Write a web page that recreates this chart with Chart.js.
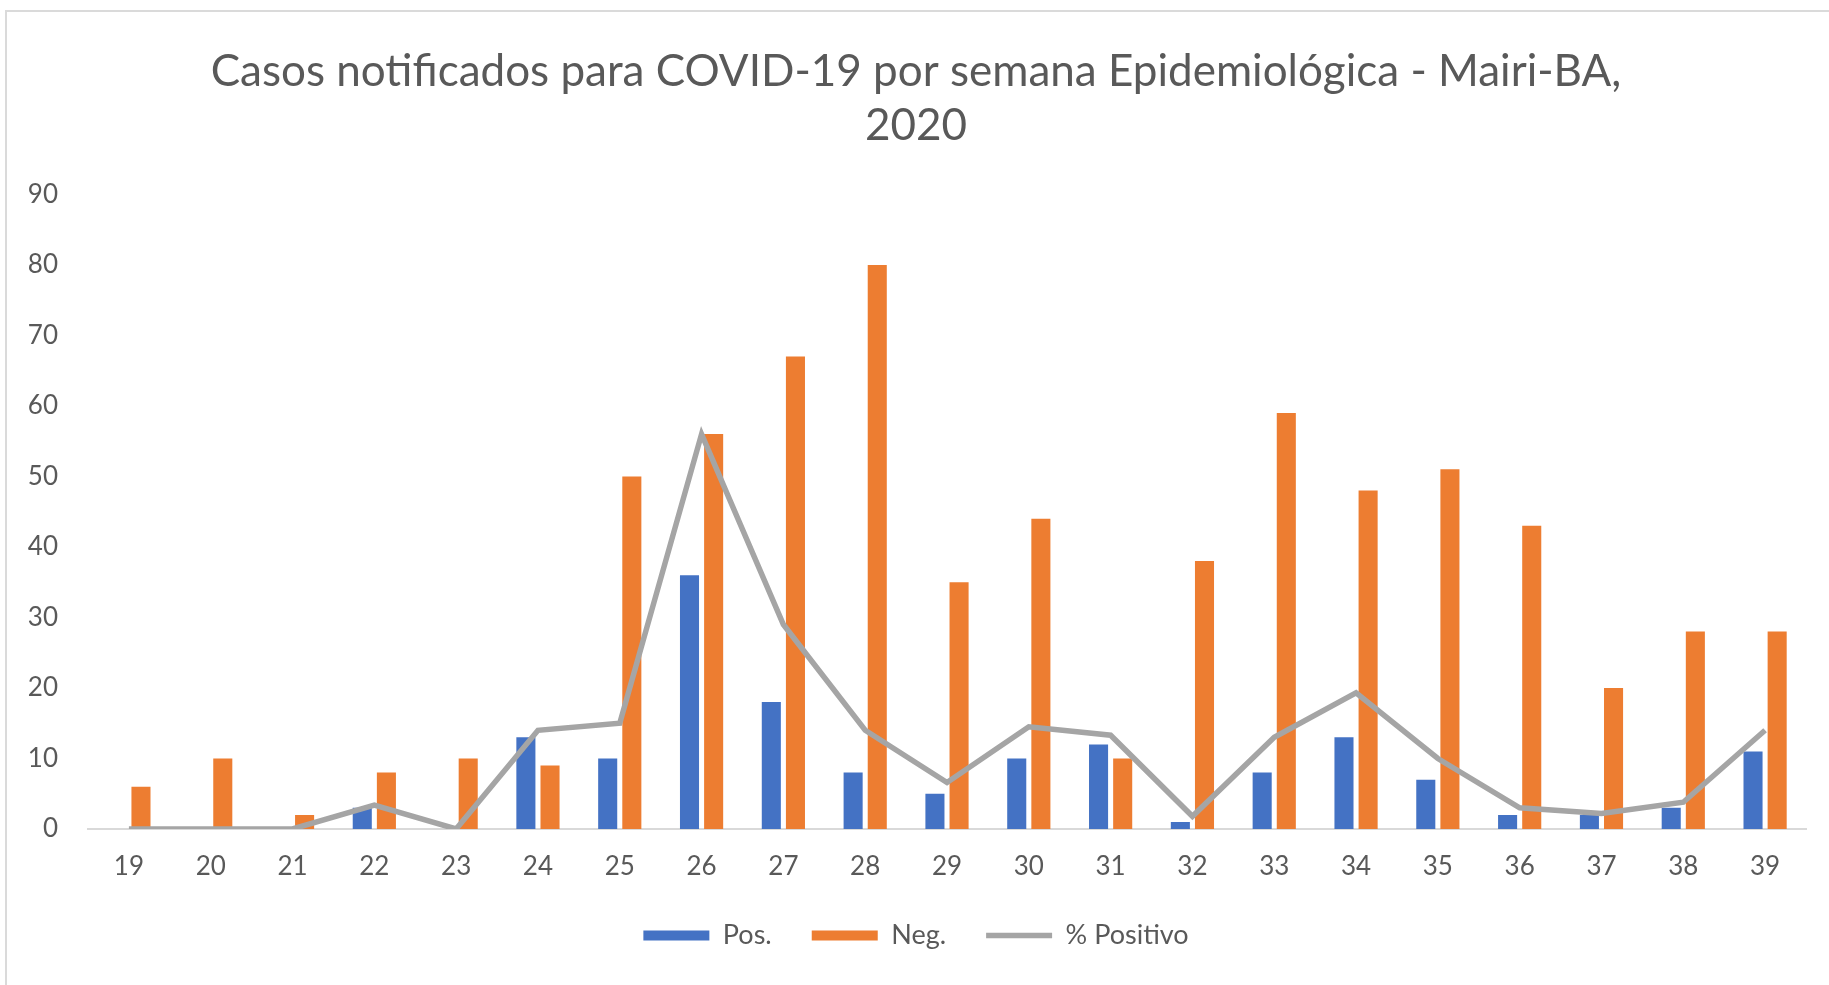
<!DOCTYPE html>
<html>
<head>
<meta charset="utf-8">
<script src="https://cdn.jsdelivr.net/npm/chart.js@4.4.0/dist/chart.umd.min.js"></script>
<style>
  html, body { margin: 0; padding: 0; background: #fff; }
  #wrap { position: absolute; left: 0; top: 0; width: 1829px; height: 985px; }
  #frame { position: absolute; left: 5px; top: 10px; right: -4px; bottom: -4px; border: 2px solid #dadada; }
</style>
</head>
<body>
<div id="wrap">
  <div id="frame"></div>
  <canvas id="covidChart"></canvas>
</div>
<script>
const weeks = ["19", "20", "21", "22", "23", "24", "25", "26", "27", "28", "29", "30", "31", "32", "33", "34", "35", "36", "37", "38", "39"];
const positives = [0, 0, 0, 3, 0, 13, 10, 36, 18, 8, 5, 10, 12, 1, 8, 13, 7, 2, 2, 3, 11];
const negatives = [6, 10, 2, 8, 10, 9, 50, 56, 67, 80, 35, 44, 10, 38, 59, 48, 51, 43, 20, 28, 28];
const pctPositive = [0, 0, 0, 3.4, 0, 14, 15, 56, 29, 14, 6.6, 14.5, 13.3, 1.8, 13, 19.3, 10, 3, 2.2, 3.8, 14];
const yTicks = [0, 10, 20, 30, 40, 50, 60, 70, 80, 90];

const textGray = "#595959";
const fontFamily = "Lato, 'Open Sans', sans-serif";

const ctx = document.getElementById('covidChart').getContext('2d');

new Chart(ctx, {
    type: 'bar',
    data: {
        labels: weeks,
        datasets: [
            {
                label: "Pos.",
                data: positives,
                backgroundColor: "#4472c4",
                borderWidth: 0,
                order: 1,
                pointStyle: 'rect',
                barPercentage: 0.79,
                categoryPercentage: 0.59
            },
            {
                label: "Neg.",
                data: negatives,
                backgroundColor: "#ed7d31",
                borderWidth: 0,
                order: 2,
                pointStyle: 'rect',
                barPercentage: 0.79,
                categoryPercentage: 0.59
            },
            {
                type: 'line',
                label: "% Positivo",
                data: pctPositive,
                borderColor: "#a5a5a5",
                backgroundColor: "#a5a5a5",
                borderWidth: 5.5,
                pointRadius: 0,
                tension: 0,
                order: 0,
                pointStyle: 'line'
            }
        ]
    },
    options: {
        responsive: true,
        maintainAspectRatio: false,
        animation: false,
        layout: {
            padding: { left: 26, right: 23, top: 45, bottom: 26 }
        },
        plugins: {
            title: {
                display: true,
                text: ["Casos notificados para COVID-19 por semana Epidemiológica - Mairi-BA,", "2020"],
                color: textGray,
                font: { family: fontFamily, size: 44, weight: 'normal', lineHeight: 1.22 },
                padding: { top: 0, bottom: 42 }
            },
            legend: {
                display: true,
                position: 'bottom',
                labels: {
                    color: textGray,
                    font: { family: fontFamily, size: 27 },
                    usePointStyle: true,
                    pointStyleWidth: 66,
                    boxHeight: 10,
                    padding: 40,
                    sort: (a, b) => a.datasetIndex - b.datasetIndex
                }
            },
            tooltip: { enabled: false }
        },
        scales: {
            x: {
                afterFit: (scale) => { scale.height = 53; },
                grid: { display: false, drawTicks: false },
                border: { display: true, color: "#d9d9d9", width: 2 },
                ticks: {
                    color: textGray,
                    font: { family: fontFamily, size: 26 },
                    padding: 22,
                    maxRotation: 0
                }
            },
            y: {
                min: 0,
                max: 90,
                afterFit: (scale) => { scale.width = 62; },
                afterBuildTicks: (scale) => { scale.ticks = yTicks.map(v => ({ value: v })); },
                grid: { display: false, drawTicks: false },
                border: { display: false },
                ticks: {
                    color: textGray,
                    font: { family: fontFamily, size: 26 },
                    padding: 30
                }
            }
        }
    }
});
</script>
</body>
</html>
